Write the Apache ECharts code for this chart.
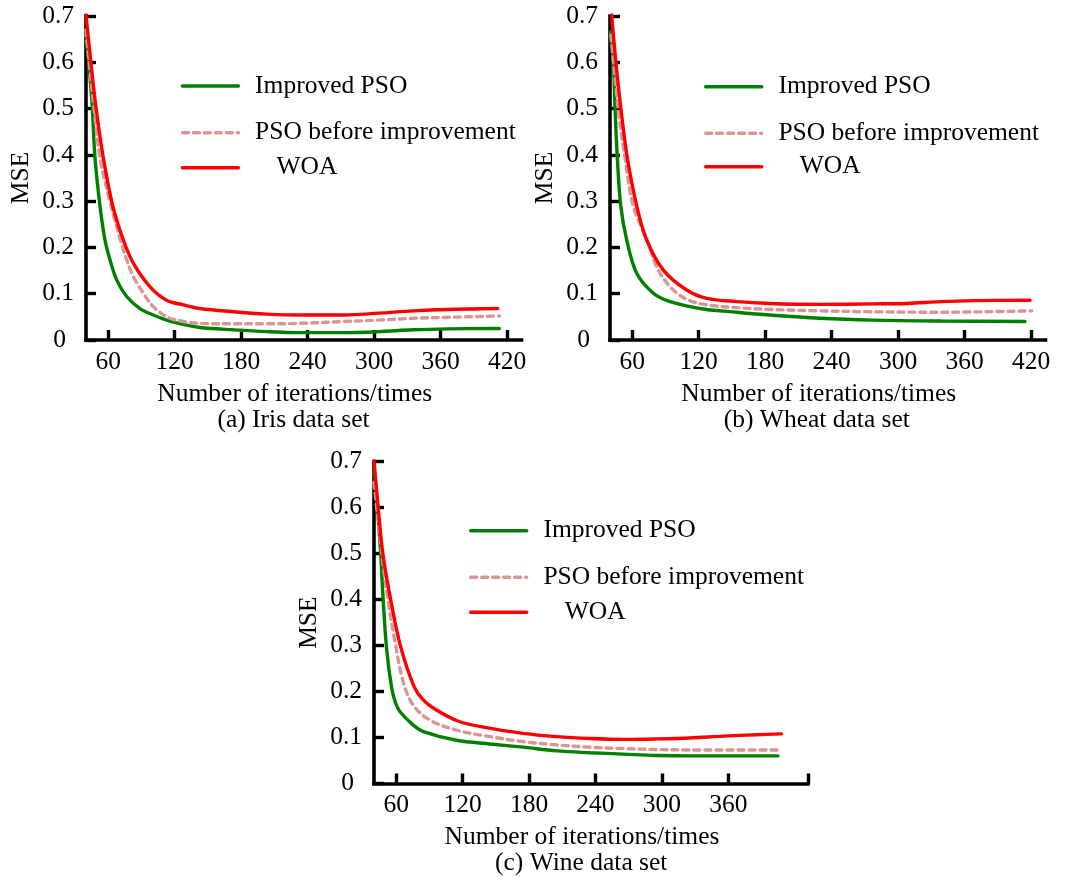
<!DOCTYPE html>
<html>
<head>
<meta charset="utf-8">
<script src="https://cdn.jsdelivr.net/npm/echarts@6/dist/echarts.min.js"></script>
<style>
  html, body { margin: 0; padding: 0; background: #ffffff; }
  #chart { width: 1067px; height: 877px; }
</style>
</head>
<body>
<div id="chart"></div>
<script>
// ---------- data (iteration, MSE) ----------
const seriesNames = ['Improved PSO', 'PSO before improvement', 'WOA'];
const panelCaptions = ['(a) Iris data set', '(b) Wheat data set', '(c) Wine data set'];
const xAxisTitle = 'Number of iterations/times';
const yAxisTitle = 'MSE';
const xTickLabels = [60, 120, 180, 240, 300, 360, 420];
const xTickLabelsWine = [60, 120, 180, 240, 300, 360];

const irisImproved = [[40,0.659],[43.6,0.568],[45.7,0.503],[48.1,0.394],[52.6,0.290],[57.1,0.216],[61.7,0.173],[67.7,0.130],[76.7,0.094],[88.7,0.068],[100.7,0.054],[112.8,0.043],[130.9,0.032],[142.9,0.027],[172.9,0.022],[203.1,0.018],[233.1,0.016],[273.2,0.016],[304.3,0.018],[335.3,0.022],[366.4,0.024],[413,0.025]];
const irisPSO = [[40,0.670],[43,0.598],[47.2,0.503],[52.6,0.394],[62.6,0.290],[71.1,0.216],[76.7,0.173],[82.7,0.137],[91.7,0.101],[100.7,0.072],[112.8,0.050],[127.8,0.040],[142.9,0.036],[172.9,0.035],[203.1,0.035],[233.1,0.036],[273.2,0.040],[304.3,0.043],[335.3,0.047],[366.4,0.049],[413,0.052]];
const irisWOA = [[40,0.702],[44.5,0.598],[49,0.503],[55.6,0.394],[64.1,0.290],[73.7,0.216],[82.7,0.166],[97.8,0.115],[112.8,0.086],[127.8,0.076],[142.9,0.068],[172.9,0.061],[203.1,0.056],[233.1,0.054],[273.2,0.054],[304.3,0.058],[335.3,0.063],[366.4,0.066],[411.5,0.068]];

const wheatImproved = [[40,0.666],[43,0.598],[44.5,0.503],[46.6,0.394],[49.7,0.290],[55.1,0.216],[64.1,0.144],[79.1,0.101],[94.2,0.083],[124.2,0.067],[154.4,0.060],[184.4,0.054],[229.5,0.047],[276.9,0.043],[338.7,0.041],[414.4,0.040]];
const wheatPSO = [[40.9,0.659],[47.5,0.497],[53.5,0.394],[61,0.290],[74.6,0.209],[82.1,0.158],[94.2,0.115],[109.2,0.088],[127.3,0.076],[154.4,0.070],[184.4,0.066],[229.5,0.063],[276.9,0.061],[338.7,0.060],[420.6,0.063]];
const wheatWOA = [[41.5,0.702],[45.4,0.598],[49.7,0.503],[55.6,0.394],[64.1,0.290],[73.1,0.216],[88.1,0.151],[109.2,0.108],[127.3,0.090],[154.4,0.083],[184.4,0.079],[229.5,0.077],[276.9,0.078],[307.8,0.079],[338.7,0.083],[369.6,0.085],[419.1,0.086]];

const wineImproved = [[40.5,0.680],[46,0.502],[48.4,0.395],[51.5,0.290],[56,0.207],[59.5,0.175],[63.5,0.156],[75.5,0.127],[84.5,0.113],[114.6,0.094],[144.7,0.086],[174.7,0.079],[204.9,0.071],[234.9,0.067],[265,0.064],[295.1,0.061],[325.2,0.060],[355.3,0.060],[404.9,0.060]];
const winePSO = [[40,0.655],[48.4,0.474],[52.9,0.395],[59,0.308],[66.4,0.221],[75.5,0.170],[90.5,0.138],[114.6,0.116],[144.7,0.102],[174.7,0.091],[204.9,0.084],[234.9,0.079],[265,0.076],[295.1,0.074],[325.2,0.073],[404.9,0.073]];
const wineWOA = [[40,0.702],[43.9,0.597],[47.9,0.502],[54.1,0.412],[63.7,0.301],[76,0.212],[84,0.183],[94.9,0.162],[115.7,0.136],[140.1,0.122],[174.7,0.109],[204.9,0.102],[234.9,0.098],[265,0.096],[295.1,0.097],[325.2,0.099],[355.3,0.103],[385.4,0.106],[408,0.108]];

// ---------- layout & style ----------
const FONT = "'Liberation Serif','Times New Roman',serif";
const FS = 25.5;
const colors = ['#008000', '#d99694', '#ff0000'];
const lineTypes = ['solid', [6, 5], 'solid'];

const panels = [
  { grid: {left: 86, top: 16, width: 435.5, height: 324}, xMin: 40, xMax: 433,
    labels: xTickLabels, ticks: xTickLabels, data: [irisImproved, irisPSO, irisWOA],
    legendLeft: 180.7, legendCy: [86, 132.7, 167.7], caption: [293.5, 420.7] },
  { grid: {left: 610, top: 16, width: 435.5, height: 324}, xMin: 40, xMax: 433,
    labels: xTickLabels, ticks: xTickLabels, data: [wheatImproved, wheatPSO, wheatWOA],
    legendLeft: 704, legendCy: [86.7, 133.3, 166.7], caption: [816.8, 420.7] },
  { grid: {left: 374, top: 461.7, width: 434, height: 321.8}, xMin: 40, xMax: 432,
    labels: xTickLabelsWine, ticks: xTickLabelsWine.concat([432]), data: [wineImproved, winePSO, wineWOA],
    legendLeft: 469, legendCy: [530.7, 577.3, 612.3], caption: [581.2, 863.3] }
];

const textBase = { fontFamily: FONT, fontSize: FS, color: '#000' };

const option = {
  backgroundColor: '#ffffff',
  animation: false,
  grid: [], xAxis: [], yAxis: [], series: [], legend: [], graphic: []
};

panels.forEach((p, i) => {
  option.grid.push(Object.assign({ containLabel: false, show: false }, p.grid));
  option.xAxis.push({
    type: 'value', gridIndex: i, min: p.xMin, max: p.xMax,
    name: xAxisTitle, nameLocation: 'middle', nameGap: 41,
    nameTextStyle: Object.assign({ padding: [0, 18, 0, 0] }, textBase),
    axisLine: { show: true, onZero: false, lineStyle: { color: '#000', width: 3.6, cap: 'square' } },
    axisTick: { show: true, inside: true, length: 10, lineStyle: { color: '#000', width: 3.4 }, customValues: p.ticks },
    axisLabel: Object.assign({ margin: 9, customValues: p.labels }, textBase),
    splitLine: { show: false }
  });
  option.yAxis.push({
    type: 'value', gridIndex: i, min: 0, max: 0.7, interval: 0.1,
    name: yAxisTitle, nameLocation: 'middle', nameGap: 52,
    nameTextStyle: Object.assign({}, textBase),
    axisLine: { show: true, onZero: false, lineStyle: { color: '#000', width: 3.6, cap: 'square' } },
    axisTick: { show: true, inside: true, length: 10, lineStyle: { color: '#000', width: 3.4 } },
    axisLabel: Object.assign({
      margin: 12,
      formatter: v => (Math.abs(v) < 1e-9 ? '{z|0}' : (+v).toFixed(1)),
      rich: { z: Object.assign({ padding: [0, 8, 0, 0] }, textBase) }
    }, textBase),
    splitLine: { show: false }
  });
  seriesNames.forEach((nm, k) => {
    option.series.push({
      type: 'line', name: nm, xAxisIndex: i, yAxisIndex: i,
      data: p.data[k], smooth: 0.35,
      symbol: 'none', showSymbol: false, clip: false,
      lineStyle: { color: colors[k], width: 3.4, type: lineTypes[k], cap: 'round' },
      itemStyle: { color: colors[k] },
      z: 2 + k
    });
    const pad = k === 2 ? 33 : 11.7;
    option.legend.push({
      data: [nm], left: p.legendLeft, top: p.legendCy[k] - 13, padding: 0,
      itemWidth: 56, itemHeight: 14, selectedMode: false,
      itemStyle: { color: 'rgba(0,0,0,0)', borderWidth: 0, opacity: 0 },
      lineStyle: { width: 3.4, color: colors[k], type: lineTypes[k], cap: 'round' },
      formatter: '{t|' + nm + '}',
      textStyle: Object.assign({ rich: { t: Object.assign({ padding: [0, 0, 0, pad] }, textBase) } }, textBase)
    });
  });
  option.graphic.push({
    type: 'text', x: p.caption[0], y: p.caption[1],
    style: { text: panelCaptions[i], fontFamily: FONT, fontSize: FS, fill: '#000',
             textAlign: 'center', textVerticalAlign: 'middle' }
  });
});

const chart = echarts.init(document.getElementById('chart'), null, { renderer: 'canvas' });
chart.setOption(option);
</script>
</body>
</html>
